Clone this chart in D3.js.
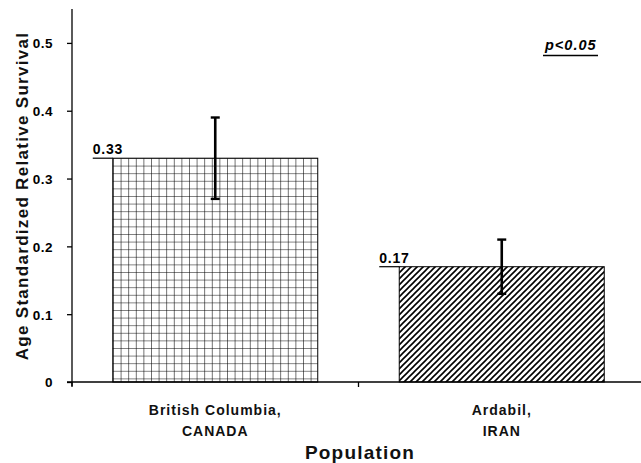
<!DOCTYPE html>
<html><head><meta charset="utf-8">
<script src="https://cdn.jsdelivr.net/npm/d3@7"></script>
<style>body{margin:0;background:#fff}svg{display:block;font-family:"Liberation Sans",Arial,sans-serif}</style>
</head><body><svg id="c" width="641" height="463"></svg>
<script>
const categories = [["British Columbia,", "CANADA"], ["Ardabil,", "IRAN"]];
const values = [0.33, 0.17];
const errLow = [0.27, 0.13];
const errHigh = [0.39, 0.21];
const valueLabels = ["0.33", "0.17"];
const yTicks = [0, 0.1, 0.2, 0.3, 0.4, 0.5];
const yTickLabels = ["0", "0.1", "0.2", "0.3", "0.4", "0.5"];
const patterns = ["grid", "hatch"];

const svg = d3.select("#c");
const defs = svg.append("defs");
const g1 = defs.append("pattern").attr("id","grid").attr("patternUnits","userSpaceOnUse")
  .attr("width",7.6).attr("height",7.6).attr("x",113).attr("y",158);
g1.append("rect").attr("width",7.6).attr("height",7.6).attr("fill","#fff");
g1.append("path").attr("d","M0,0 H7.6 M0,0 V7.6").attr("stroke","#000").attr("stroke-width",1.1);
const g2 = defs.append("pattern").attr("id","hatch").attr("patternUnits","userSpaceOnUse")
  .attr("width",6).attr("height",6);
g2.append("rect").attr("width",6).attr("height",6).attr("fill","#fff");
g2.append("path").attr("d","M-1.5,1.5 L1.5,-1.5 M0,6 L6,0 M4.5,7.5 L7.5,4.5").attr("stroke","#000").attr("stroke-width",1.6);

const x = d3.scaleBand().domain(d3.range(values.length)).range([72, 645])
  .paddingInner(0.2845).paddingOuter(0.2845/2);
const y = d3.scaleLinear().domain([0, 0.55]).range([382, 9]);
const step = x.step();

// bars
svg.selectAll(".bar").data(values).join("rect")
  .attr("x",(d,i)=>x(i)).attr("y",d=>y(d)).attr("width",x.bandwidth()).attr("height",d=>y(0)-y(d))
  .attr("fill",(d,i)=>`url(#${patterns[i]})`).attr("stroke","#000").attr("stroke-width",1);

// y axis
const yAxis = d3.axisLeft(y).tickValues(yTicks).tickFormat((d,i)=>yTickLabels[i]).tickSize(5).tickPadding(14);
const ya = svg.append("g").attr("transform","translate(72,0)").call(yAxis);
ya.select(".domain").attr("d","M0,9 V386").attr("stroke","#000").attr("stroke-width",1.3);
ya.selectAll(".tick line").attr("stroke","#000").attr("stroke-width",1.3);
ya.selectAll(".tick text").attr("font-size",13.5).attr("font-weight","bold").attr("fill","#000")
  .attr("letter-spacing",0.5)
  .attr("font-family","Liberation Sans, Arial, sans-serif").attr("dy","0.36em");

// x axis
svg.append("line").attr("x1",67).attr("x2",641).attr("y1",382).attr("y2",382).attr("stroke","#000").attr("stroke-width",1.3);
svg.selectAll(".xt").data(d3.range(values.length)).join("line")
  .attr("x1",i=>x(i)-step*0.2845/2).attr("x2",i=>x(i)-step*0.2845/2)
  .attr("y1",382).attr("y2",387).attr("stroke","#000").attr("stroke-width",1.3);

// category labels
const cl = svg.selectAll(".cat").data(categories).join("text")
  .attr("text-anchor","middle").attr("font-size",14).attr("font-weight","bold").attr("fill","#111")
  .attr("letter-spacing",1);
cl.each(function(d,i){
  const t = d3.select(this);
  d.forEach((line,j)=>t.append("tspan").attr("x",x(i)+x.bandwidth()/2).attr("y",415+j*21).text(line));
});

// error bars
const eb = svg.selectAll(".eb").data(values).join("g");
eb.append("line").attr("x1",(d,i)=>x(i)+x.bandwidth()/2).attr("x2",(d,i)=>x(i)+x.bandwidth()/2)
  .attr("y1",(d,i)=>y(errLow[i])).attr("y2",(d,i)=>y(errHigh[i])).attr("stroke","#000").attr("stroke-width",2.6);
eb.append("line").attr("x1",(d,i)=>x(i)+x.bandwidth()/2-4.5).attr("x2",(d,i)=>x(i)+x.bandwidth()/2+4.5)
  .attr("y1",(d,i)=>y(errHigh[i])).attr("y2",(d,i)=>y(errHigh[i])).attr("stroke","#000").attr("stroke-width",2.4);
eb.append("line").attr("x1",(d,i)=>x(i)+x.bandwidth()/2-4.5).attr("x2",(d,i)=>x(i)+x.bandwidth()/2+4.5)
  .attr("y1",(d,i)=>y(errLow[i])).attr("y2",(d,i)=>y(errLow[i])).attr("stroke","#000").attr("stroke-width",2.4);

// value labels
svg.selectAll(".vl").data(values).join("text")
  .attr("x",(d,i)=>x(i)-20).attr("y",d=>y(d)-4).attr("font-size",14).attr("font-weight","bold")
  .attr("letter-spacing",0.8)
  .text((d,i)=>valueLabels[i]);
svg.selectAll(".vu").data(values).join("line")
  .attr("x1",(d,i)=>x(i)-20).attr("x2",(d,i)=>x(i)).attr("y1",d=>y(d)).attr("y2",d=>y(d))
  .attr("stroke","#000").attr("stroke-width",1.2);

// p value
svg.append("text").attr("x",545).attr("y",50).attr("font-size",14.5).attr("font-weight","bold")
  .attr("font-style","italic").attr("letter-spacing",1).text("p<0.05");
svg.append("line").attr("x1",543).attr("x2",598).attr("y1",55.5).attr("y2",55.5).attr("stroke","#000").attr("stroke-width",1.4);

// axis titles
svg.append("text").attr("transform","translate(28,196) rotate(-90)").attr("text-anchor","middle")
  .attr("font-size",17).attr("font-weight","bold").attr("fill","#111").attr("letter-spacing",1.3)
  .text("Age Standardized Relative Survival");
svg.append("text").attr("x",360).attr("y",459).attr("text-anchor","middle")
  .attr("font-size",19).attr("font-weight","bold").attr("fill","#111").attr("letter-spacing",1.2)
  .text("Population");
</script></body></html>
